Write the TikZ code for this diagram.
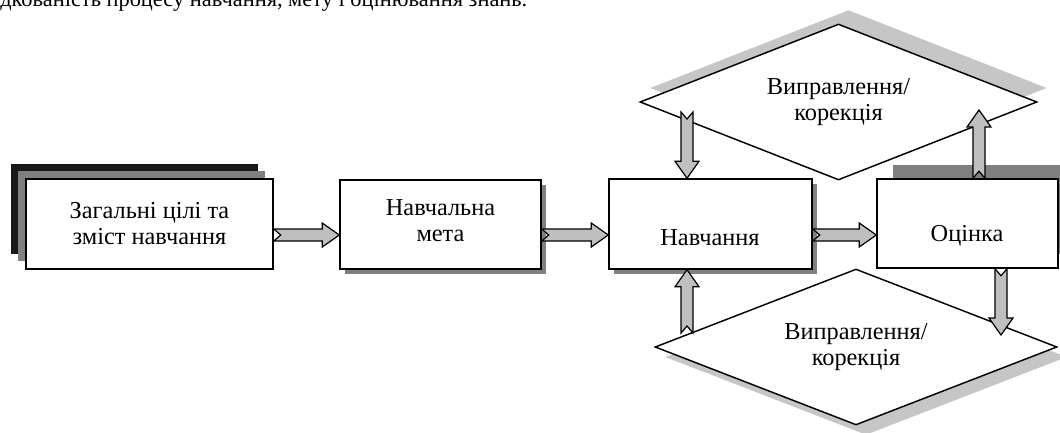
\documentclass[tikz,border=0pt]{standalone}
\usepackage{fontspec}
\setmainfont{Liberation Serif}
\usetikzlibrary{calc,shapes.geometric,shadows}
\newcommand\ash{4.5pt}
\newcommand\ahd{9pt}
\newcommand\alen{12.75pt}
\newcommand\anotch{5.25pt}
\newcommand\blockarrow[2]{%
  \coordinate (hb) at ($(#2)!\alen!(#1)$);
  \draw[barrow] ($(#1)!\ash!90:(#2)$) -- ($(hb)!\ash!90:(#2)$) -- ($(hb)!\ahd!90:(#2)$) -- (#2)
    -- ($(hb)!\ahd!-90:(#2)$) -- ($(hb)!\ash!-90:(#2)$) -- ($(#1)!\ash!-90:(#2)$)
    -- ($(#1)!\anotch!(#2)$) -- cycle;}
\begin{document}
\begin{tikzpicture}[x=0.75pt,y=-0.75pt,
  txt/.style={font=\fontsize{18.25pt}{19.5pt}\selectfont, align=center, inner sep=0pt},
  box/.style={draw, line width=1.1pt, fill=white, inner sep=0pt},
  sshadow/.style={drop shadow={shadow xshift=3.75pt, shadow yshift=-3.75pt, fill=gray, opacity=1}},
  diam/.style={diamond, draw, line width=1.1pt, fill=white, inner sep=0pt, aspect=2.5,
    font=\fontsize{18.25pt}{19.5pt}\selectfont, align=center},
  barrow/.style={draw, line width=0.9pt, fill=gray!50, line join=miter}]
\useasboundingbox (0,0) rectangle (1060,432);
\clip (0,0) rectangle (1060,432);
% cropped text line at top
\node[txt, font=\fontsize{16.8pt}{19pt}\selectfont, anchor=base west] (top) at (0,7)
  {дкованість процесу навчання, мету і оцінювання знань.};
% diamonds
\node[diam, minimum width=297.75pt, minimum height=117pt,
  drop shadow={shadow xshift=7.5pt, shadow yshift=10.5pt, fill=gray!45, opacity=1}]
  (d1) at (838.5,102) {Виправлення/\\корекція};
\node[diam, minimum width=301.5pt, minimum height=117pt,
  drop shadow={shadow xshift=7.5pt, shadow yshift=-7.5pt, fill=gray!45, opacity=1}]
  (d2) at (856,347) {Виправлення/\\корекція};
% boxes
\node[box, minimum width=185.25pt, minimum height=67.5pt,
  drop shadow={shadow xshift=-11.25pt, shadow yshift=11.25pt, fill=black!90, opacity=1},
  drop shadow={shadow xshift=-6pt, shadow yshift=6pt, fill=gray, opacity=1}]
  (b1) at (149.5,224) {};
\node[box, sshadow, minimum width=150.75pt, minimum height=66.75pt] (b2) at (440.5,224.5) {};
\node[box, sshadow, minimum width=152.25pt, minimum height=67.5pt] (b3) at (710.5,224) {};
\node[box, minimum width=135.75pt, minimum height=66.75pt,
  drop shadow={shadow xshift=12pt, shadow yshift=10.5pt, fill=gray, opacity=1}]
  (b4) at (967.5,223.5) {};
% box texts
\node[txt] (t1) at (149.5,224) {Загальні цілі та\\зміст навчання};
\node[txt] (t2) at (440.5,221) {Навчальна\\мета};
\node[txt] (t3) at (710,238) {Навчання};
\node[txt] (t4) at (967,236) {Оцінка};
% arrow end coordinates
\coordinate (ay) at (0,235);
\coordinate (x1) at (687,0);
\coordinate (x2) at (979,0);
\coordinate (x3) at (1001,0);
\coordinate (a4s) at (687,112);
\coordinate (a5e) at (979,110);
\coordinate (a6s) at (687,333);
\coordinate (a7e) at (1001,335);
\blockarrow{b1.east |- ay}{b2.west |- ay}
\blockarrow{b2.east |- ay}{b3.west |- ay}
\blockarrow{b3.east |- ay}{b4.west |- ay}
\blockarrow{a4s}{x1 |- b3.north}
\blockarrow{x2 |- b4.north}{a5e}
\blockarrow{a6s}{x1 |- b3.south}
\blockarrow{x3 |- b4.south}{a7e}
\end{tikzpicture}
\end{document}
